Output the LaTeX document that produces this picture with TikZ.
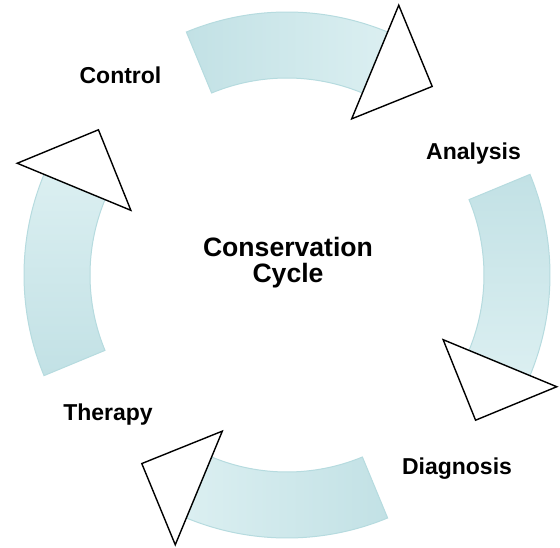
\documentclass[tikz,border=0pt]{standalone}
\usepackage{fontspec}
\setmainfont{Liberation Sans}
\definecolor{banddark}{RGB}{194,225,229}
\definecolor{bandlight}{RGB}{219,239,241}
\definecolor{bandedge}{RGB}{182,219,223}
\begin{document}
\begin{tikzpicture}[x=1pt,y=1pt,
  band/.style={draw=bandedge,line width=1pt},
  headtri/.style={draw=black,fill=white,line width=1.4pt,line join=miter},
  steplabel/.style={font=\fontsize{23}{26}\selectfont\bfseries,anchor=base,inner sep=0pt},
  centerlabel/.style={font=\fontsize{26.6}{25.5}\selectfont\bfseries,align=center,inner sep=0pt}]
\useasboundingbox (0,0) rectangle (560,547);
\coordinate (C) at (287,272);
\begin{scope}[shift={(C)}]
  % bands
  \shade[band,left color=banddark,right color=bandlight]
    (112.5:263) arc[start angle=112.5,end angle=67.5,radius=263pt]
    -- (67.5:197) arc[start angle=67.5,end angle=112.5,radius=197pt] -- cycle;
  \shade[band,top color=banddark,bottom color=bandlight]
    (22.5:263) arc[start angle=22.5,end angle=-22.5,radius=263pt]
    -- (-22.5:197) arc[start angle=-22.5,end angle=22.5,radius=197pt] -- cycle;
  \shade[band,left color=bandlight,right color=banddark]
    (-67.5:263) arc[start angle=-67.5,end angle=-112.5,radius=263pt]
    -- (-112.5:197) arc[start angle=-112.5,end angle=-67.5,radius=197pt] -- cycle;
  \shade[band,top color=bandlight,bottom color=banddark]
    (202.5:263) arc[start angle=202.5,end angle=157.5,radius=263pt]
    -- (157.5:197) arc[start angle=157.5,end angle=202.5,radius=197pt] -- cycle;
  % arrow heads
  \foreach \c in {90,0,-90,180}{
    \pgfmathsetmacro{\b}{\c-22.5}
    \pgfmathsetmacro{\t}{\c-37.6}
    \draw[headtri] (\b:169) -- (\b:292) -- (\t:238) -- cycle;
  }
\end{scope}
\node[centerlabel] (center) at (288,284.5) {Conservation\\Cycle};
\node[steplabel] (control) at (120.5,463) {Control};
\node[steplabel] (analysis) at (473.5,387) {Analysis};
\node[steplabel] (diagnosis) at (457,73) {Diagnosis};
\node[steplabel] (therapy) at (108,127) {Therapy};
\end{tikzpicture}
\end{document}
